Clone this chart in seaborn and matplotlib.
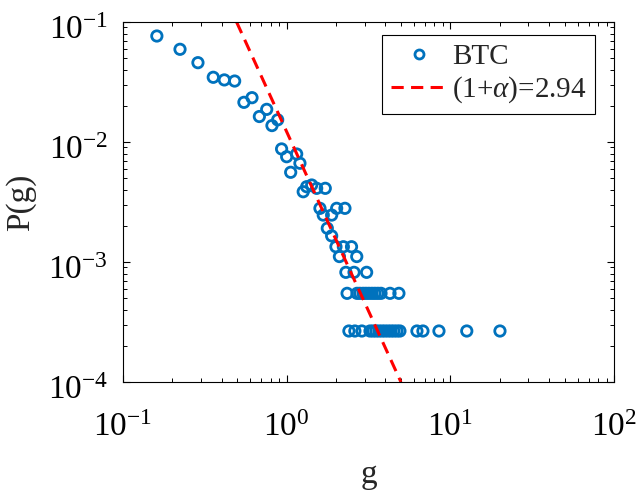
import numpy as np
import pandas as pd
import matplotlib
matplotlib.use('Agg')
import matplotlib.pyplot as plt
import matplotlib.transforms as mtransforms
import seaborn as sns
from matplotlib.lines import Line2D

g_values = [0.161, 0.223, 0.287, 0.356, 0.416, 0.481, 0.548, 0.614, 0.681, 0.755,
            0.813, 0.881, 0.931, 1.0, 1.151, 1.205, 1.058, 1.262, 1.325, 1.422,
            1.525, 1.721, 1.597, 1.673, 1.883, 2.02, 2.27, 1.771, 1.883,
            2.0, 2.22, 2.49, 2.10, 2.68, 2.30, 2.58, 3.08,
            2.34, 2.69, 2.80, 2.93, 3.05, 3.18, 3.32, 3.46, 3.61, 3.77, 4.28, 4.85,
            2.40, 2.61, 2.88, 3.23, 3.37, 3.51, 3.66, 3.82, 3.98, 4.16, 4.34, 4.52,
            4.72, 4.92, 6.25, 6.80, 8.52, 12.6, 20.1]
p_values = [0.0764, 0.0592, 0.0458, 0.0346, 0.0329, 0.0322, 0.0214, 0.0234, 0.0163, 0.0187,
            0.0137, 0.0153, 0.00875, 0.00754, 0.00794, 0.00665, 0.00559, 0.00385, 0.00424, 0.00438,
            0.00411, 0.00411, 0.0028, 0.00246, 0.00246, 0.0028, 0.0028, 0.00191, 0.00165,
            0.00134, 0.00134, 0.00134, 0.00111, 0.00111, 0.00082, 0.00082, 0.00082,
            5.48e-4, 5.48e-4, 5.48e-4, 5.48e-4, 5.48e-4, 5.48e-4, 5.48e-4, 5.48e-4, 5.48e-4, 5.48e-4, 5.48e-4, 5.48e-4,
            2.66e-4, 2.66e-4, 2.66e-4, 2.66e-4, 2.66e-4, 2.66e-4, 2.66e-4, 2.66e-4, 2.66e-4, 2.66e-4, 2.66e-4, 2.66e-4,
            2.66e-4, 2.66e-4, 2.66e-4, 2.66e-4, 2.66e-4, 2.66e-4, 2.66e-4]

# Power-law fit line, endpoints where it meets the frame
fit_g = [0.494, 4.99]
fit_p = [1e-1, 1e-4]

series_label = 'BTC'
fit_label = r'(1+$\alpha$)=2.94'

BLUE = '#0072BD'
RED = '#FF0000'
DASH = (0, (4, 2.4))

sns.set_style('ticks')
plt.rcParams['font.family'] = ['Liberation Serif', 'DejaVu Serif']
plt.rcParams['mathtext.fontset'] = 'custom'
plt.rcParams['mathtext.rm'] = 'Liberation Serif'
plt.rcParams['mathtext.it'] = 'Liberation Serif:italic'

df = pd.DataFrame({'g': g_values, 'P': p_values})
fit_df = pd.DataFrame({'g': fit_g, 'P': fit_p})

fig = plt.figure(figsize=(6.38, 4.95), dpi=100)
ax = fig.add_axes([0.1928, 0.2283, 0.7696, 0.7273])

sns.scatterplot(data=df, x='g', y='P', ax=ax, marker='o', s=56, linewidth=2.0, legend=False)
pts = ax.collections[0]
pts.set_facecolor('none')
pts.set_edgecolor(BLUE)

sns.lineplot(data=fit_df, x='g', y='P', ax=ax, color=RED, linestyle=DASH,
             linewidth=2.2, legend=False, estimator=None)

ax.set_xscale('log')
ax.set_yscale('log')
ax.set_xlim(0.1, 100)
ax.set_ylim(1e-4, 1e-1)

for s in ax.spines.values():
    s.set_visible(True)
    s.set_color('black')
    s.set_linewidth(0.8)
ax.tick_params(which='both', direction='in', top=True, right=True, colors='black')
ax.tick_params(which='major', length=5, width=0.8)
ax.tick_params(which='minor', length=3, width=0.7)
ax.tick_params(axis='x', which='major', labelsize=24, pad=22)
ax.tick_params(axis='y', which='major', labelsize=24, pad=11)

# MATLAB-style vertical placement of the y tick labels (a touch below the tick)
offset = mtransforms.ScaledTranslation(0, -5 / 100, fig.dpi_scale_trans)
for lab in ax.get_yticklabels():
    lab.set_transform(lab.get_transform() + offset)

ax.set_xlabel('g', fontsize=24, labelpad=12)
ax.set_ylabel('P(g)', fontsize=24, labelpad=8)

handles = [
    Line2D([], [], marker='o', linestyle='none', markerfacecolor='none',
           markeredgecolor=BLUE, markeredgewidth=2.0, markersize=6.5),
    Line2D([], [], color=RED, linestyle=DASH, linewidth=2.2),
]
leg = ax.legend(handles, [series_label, fit_label], loc='upper right',
                bbox_to_anchor=(0.962, 0.9639), borderaxespad=0, fontsize=21,
                frameon=True, fancybox=False, edgecolor='black', framealpha=1,
                handlelength=1.95, handletextpad=0.15, borderpad=0.3,
                labelspacing=0.15)
leg.get_frame().set_linewidth(0.8)

fig.savefig('out.png', dpi=100)
